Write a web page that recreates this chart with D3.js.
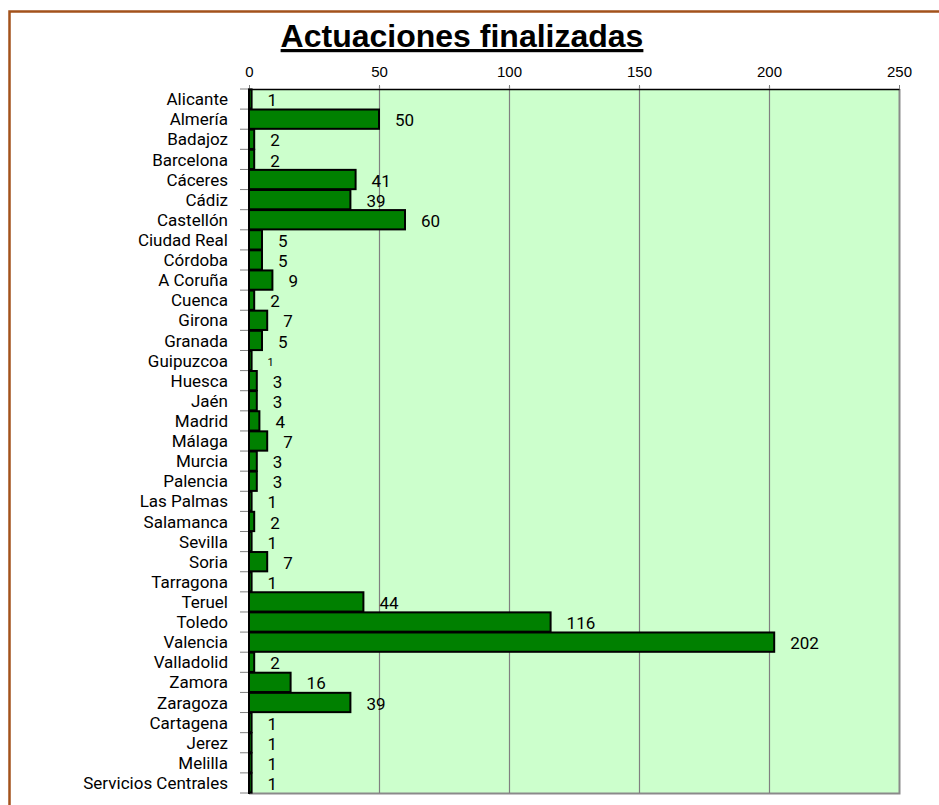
<!DOCTYPE html>
<html>
<head>
<meta charset="utf-8">
<script src="https://cdn.jsdelivr.net/npm/d3@7"></script>
<style>
  body { margin: 0; background: #fff; }
  svg { display: block; }
</style>
</head>
<body>
<script>
// categories and values, top to bottom
const provincias = ["Alicante", "Almería", "Badajoz", "Barcelona", "Cáceres", "Cádiz", "Castellón",
  "Ciudad Real", "Córdoba", "A Coruña", "Cuenca", "Girona", "Granada", "Guipuzcoa", "Huesca", "Jaén",
  "Madrid", "Málaga", "Murcia", "Palencia", "Las Palmas", "Salamanca", "Sevilla", "Soria", "Tarragona",
  "Teruel", "Toledo", "Valencia", "Valladolid", "Zamora", "Zaragoza", "Cartagena", "Jerez", "Melilla",
  "Servicios Centrales"];
const actuaciones = [1, 50, 2, 2, 41, 39, 60, 5, 5, 9, 2, 7, 5, 1, 3, 3, 4, 7, 3, 3, 1, 2, 1, 7, 1,
  44, 116, 202, 2, 16, 39, 1, 1, 1, 1];
const ticks = [0, 50, 100, 150, 200, 250];

const data = provincias.map((p, i) => ({ name: p, value: actuaciones[i] }));

const W = 939, H = 805;
const plot = { left: 249, top: 89, right: 899, bottom: 793 };

let svg = d3.select("body")
    .append("svg")
    .attr("width", W)
    .attr("height", H);

// brown frame
svg.append("rect")
    .attr("x", 9.5).attr("y", 11.5)
    .attr("width", W + 20).attr("height", H + 20)
    .attr("fill", "none")
    .attr("stroke", "#a3521b")
    .attr("stroke-width", 2.5);

let x = d3.scaleLinear()
    .domain([0, 250])
    .range([plot.left, plot.right]);

let y = d3.scaleBand()
    .domain(provincias)
    .range([plot.top, plot.bottom])
    .paddingInner(0.04)
    .paddingOuter(0.02);

// plot background + gray right/bottom edges
svg.append("rect")
    .attr("x", plot.left).attr("y", plot.top)
    .attr("width", plot.right - plot.left).attr("height", plot.bottom - plot.top)
    .attr("fill", "#ccffcc");

svg.append("path")
    .attr("d", `M${plot.right + 0.5},${plot.top} V${plot.bottom + 0.5} H${plot.left}`)
    .attr("fill", "none")
    .attr("stroke", "#8a8a8a")
    .attr("stroke-width", 2);

// gridlines
svg.append("g").selectAll("line")
    .data(ticks.filter(t => t > 0 && t < 250))
    .enter()
    .append("line")
    .attr("x1", d => x(d) + 0.5).attr("x2", d => x(d) + 0.5)
    .attr("y1", plot.top - 3).attr("y2", plot.bottom)
    .attr("stroke", "#808080")
    .attr("stroke-width", 1.2);

// top axis
let xAxis = d3.axisTop(x)
    .tickValues(ticks)
    .tickSize(4)
    .tickPadding(8)
    .tickSizeOuter(0);

let gx = svg.append("g")
    .attr("transform", `translate(0,${plot.top})`)
    .call(xAxis);
gx.select(".domain").attr("stroke", "#000").attr("stroke-width", 1.5);
gx.selectAll(".tick line").attr("stroke", "#808080");
gx.selectAll(".tick text")
    .attr("fill", "#000")
    .style("font-size", "15px")
    .style("font-family", "Arial, 'Liberation Sans', sans-serif");

// category ticks (band boundaries)
svg.append("g").selectAll("line")
    .data(d3.range(provincias.length + 1))
    .enter()
    .append("line")
    .attr("x1", plot.left - 9).attr("x2", plot.left)
    .attr("y1", i => plot.top + i * (plot.bottom - plot.top) / provincias.length)
    .attr("y2", i => plot.top + i * (plot.bottom - plot.top) / provincias.length)
    .attr("stroke", "#808080")
    .attr("stroke-width", 1);

// bars
svg.append("g").selectAll("rect")
    .data(data)
    .enter()
    .append("rect")
    .attr("x", x(0))
    .attr("y", d => y(d.name))
    .attr("width", d => x(d.value) - x(0))
    .attr("height", y.bandwidth())
    .attr("fill", "#008000")
    .attr("stroke", "#000")
    .attr("stroke-width", 2);

// y axis line
svg.append("line")
    .attr("x1", plot.left).attr("x2", plot.left)
    .attr("y1", plot.top).attr("y2", plot.bottom + 1)
    .attr("stroke", "#000")
    .attr("stroke-width", 2);

// category labels
svg.append("g").selectAll("text")
    .data(data)
    .enter()
    .append("text")
    .attr("x", plot.left - 21)
    .attr("y", d => y(d.name) + y.bandwidth() / 2)
    .attr("dy", "0.36em")
    .attr("text-anchor", "end")
    .attr("font-family", "Roboto, sans-serif")
    .attr("font-size", 17)
    .attr("fill", "#000")
    .text(d => d.name);

// value labels
svg.append("g").selectAll("text")
    .data(data)
    .enter()
    .append("text")
    .attr("x", d => x(d.value) + 16)
    .attr("y", d => y(d.name) + y.bandwidth() / 2 + 1)
    .attr("dy", "0.36em")
    .attr("font-family", "Roboto, sans-serif")
    .attr("font-size", d => d.name === "Guipuzcoa" ? 11 : 17)
    .attr("fill", "#000")
    .text(d => d.value);

// title
svg.append("text")
    .attr("x", 462)
    .attr("y", 47)
    .attr("text-anchor", "middle")
    .attr("font-family", "Arial, 'Liberation Sans', sans-serif")
    .attr("font-weight", "bold")
    .attr("font-size", 32)
    .attr("text-decoration", "underline")
    .text("Actuaciones finalizadas");
</script>
</body>
</html>
